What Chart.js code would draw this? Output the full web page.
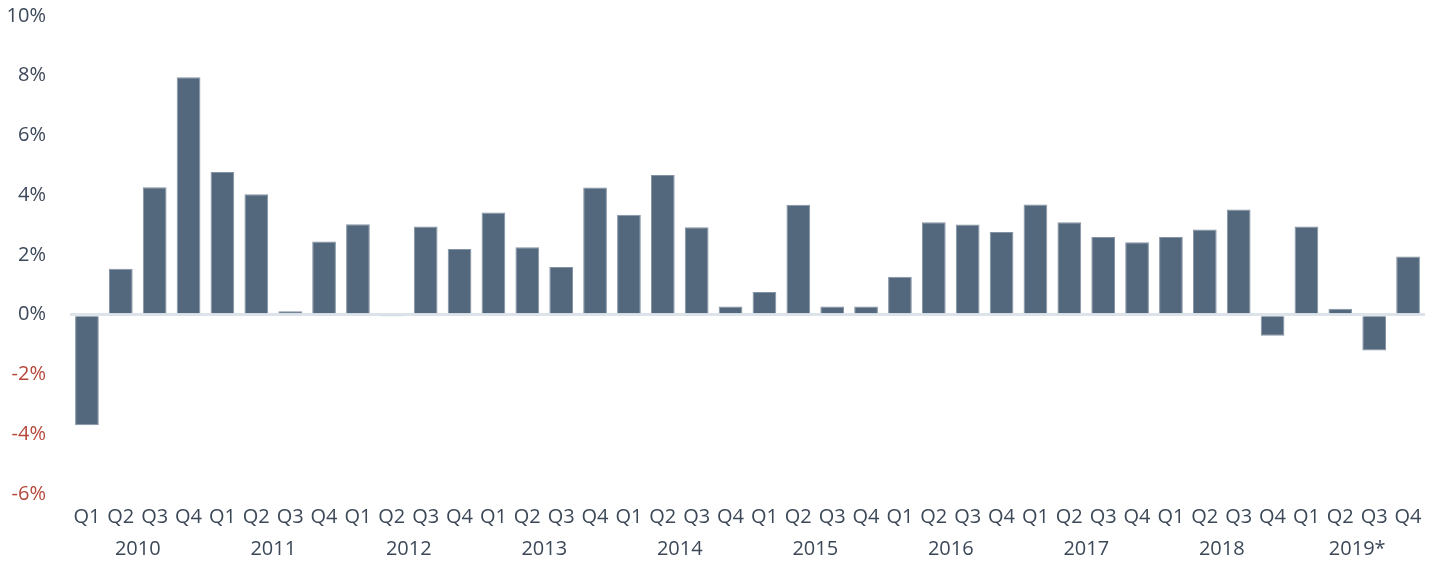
<!DOCTYPE html>
<html>
<head>
<meta charset="utf-8">
<script src="https://cdn.jsdelivr.net/npm/chart.js@4"></script>
<style>
  html, body { margin: 0; padding: 0; background: #fff; }
  #wrap { width: 1437px; height: 561px; position: relative; }
</style>
</head>
<body>
<div id="wrap"><canvas id="growth"></canvas></div>
<script>
// 季度标签与年份
const quarters = ['Q1', 'Q2', 'Q3', 'Q4'];
const years = ['2010', '2011', '2012', '2013', '2014', '2015', '2016', '2017', '2018', '2019*'];

// 季度增长率 (%)，按年份排列
const growth2010 = [-3.7, 1.54, 4.27, 7.95];
const growth2011 = [4.78, 4.03, 0.12, 2.45];
const growth2012 = [3.03, -0.03, 2.95, 2.2];
const growth2013 = [3.42, 2.26, 1.6, 4.26];
const growth2014 = [3.35, 4.68, 2.93, 0.28];
const growth2015 = [0.76, 3.68, 0.28, 0.28];
const growth2016 = [1.27, 3.1, 3.02, 2.77];
const growth2017 = [3.69, 3.1, 2.6, 2.43];
const growth2018 = [2.6, 2.85, 3.52, -0.7];
const growth2019 = [2.95, 0.2, -1.2, 1.95];

const yTicks = [-6, -4, -2, 0, 2, 4, 6, 8, 10];

const values = [].concat(growth2010, growth2011, growth2012, growth2013, growth2014,
  growth2015, growth2016, growth2017, growth2018, growth2019);
const labels = years.flatMap(() => quarters);

const FONT = '"Open Sans", "Noto Sans", sans-serif';
const TEXT = '#3c4858';
const NEG = '#b5483b';

new Chart(document.getElementById('growth'), {
  type: 'bar',
  data: {
    labels: labels,
    datasets: [{
      data: values,
      backgroundColor: '#53687d',
      borderColor: '#8493a4',
      borderWidth: 1,
      barPercentage: 0.7,
      categoryPercentage: 1.0
    }]
  },
  options: {
    responsive: true,
    maintainAspectRatio: false,
    animation: false,
    layout: { padding: { top: 16, right: 12, bottom: 0, left: 0 } },
    plugins: {
      legend: { display: false },
      tooltip: { enabled: false }
    },
    scales: {
      y: {
        min: -6,
        max: 10,
        afterBuildTicks: (axis) => { axis.ticks = yTicks.map(v => ({ value: v })); },
        afterFit: (axis) => {
          axis.width = 70;
          // 顶部不额外留白，由 layout.padding 控制
          axis.paddingTop = 0;
          axis.paddingBottom = 0;
        },
        border: { display: false },
        grid: {
          drawTicks: false,
          color: (ctx) => ctx.tick && ctx.tick.value === 0 ? '#dde3ea' : 'rgba(0,0,0,0)',
          lineWidth: (ctx) => ctx.tick && ctx.tick.value === 0 ? 3 : 0
        },
        ticks: {
          padding: 24,
          font: { family: FONT, size: 20 },
          color: (ctx) => ctx.tick.value < 0 ? NEG : TEXT,
          callback: (v) => v + '%'
        }
      },
      x: {
        border: { display: false },
        grid: { display: false, drawTicks: false },
        afterFit: (axis) => { axis.height = 35; },
        ticks: {
          padding: 11,
          maxRotation: 0,
          autoSkip: false,
          font: { family: FONT, size: 20 },
          color: TEXT
        }
      },
      year: {
        type: 'category',
        position: 'bottom',
        labels: years,
        offset: true,
        border: { display: false },
        grid: { display: false, drawTicks: false },
        afterFit: (axis) => { axis.height = 32; },
        ticks: {
          padding: 8,
          maxRotation: 0,
          autoSkip: false,
          font: { family: FONT, size: 20 },
          color: TEXT
        }
      }
    }
  }
});
</script>
</body>
</html>
